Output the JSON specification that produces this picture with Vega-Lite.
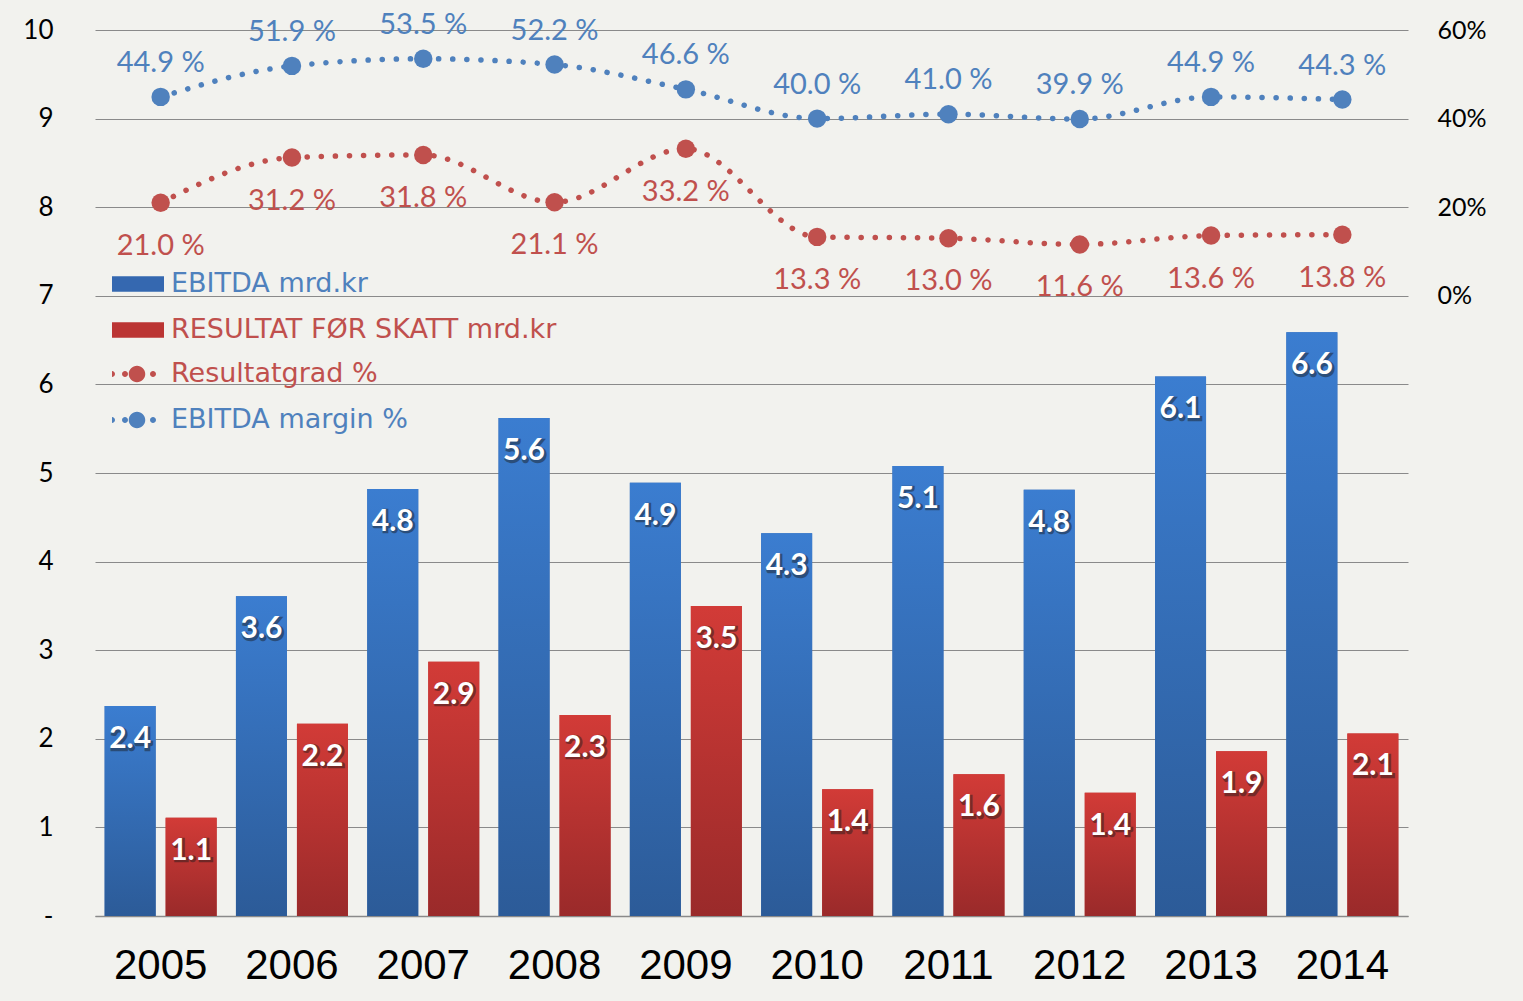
{
  "$schema": "https://vega.github.io/schema/vega-lite/v6.json",
  "width": 1313,
  "height": 886,
  "autosize": {"type": "none"},
  "padding": {"left": 95, "top": 30, "right": 115, "bottom": 85},
  "background": "#f2f2ee",
  "config": {"view": {"stroke": null}, "font": "Lato"},
  "datasets": {
    "bars": [
      {"year": 2005, "series": "EBITDA mrd.kr", "value": 2.37},
      {"year": 2006, "series": "EBITDA mrd.kr", "value": 3.61},
      {"year": 2007, "series": "EBITDA mrd.kr", "value": 4.82},
      {"year": 2008, "series": "EBITDA mrd.kr", "value": 5.62},
      {"year": 2009, "series": "EBITDA mrd.kr", "value": 4.89},
      {"year": 2010, "series": "EBITDA mrd.kr", "value": 4.32},
      {"year": 2011, "series": "EBITDA mrd.kr", "value": 5.08},
      {"year": 2012, "series": "EBITDA mrd.kr", "value": 4.81},
      {"year": 2013, "series": "EBITDA mrd.kr", "value": 6.09},
      {"year": 2014, "series": "EBITDA mrd.kr", "value": 6.59},
      {"year": 2005, "series": "RESULTAT FØR SKATT mrd.kr", "value": 1.11},
      {"year": 2006, "series": "RESULTAT FØR SKATT mrd.kr", "value": 2.17},
      {"year": 2007, "series": "RESULTAT FØR SKATT mrd.kr", "value": 2.87},
      {"year": 2008, "series": "RESULTAT FØR SKATT mrd.kr", "value": 2.27},
      {"year": 2009, "series": "RESULTAT FØR SKATT mrd.kr", "value": 3.5},
      {"year": 2010, "series": "RESULTAT FØR SKATT mrd.kr", "value": 1.43},
      {"year": 2011, "series": "RESULTAT FØR SKATT mrd.kr", "value": 1.6},
      {"year": 2012, "series": "RESULTAT FØR SKATT mrd.kr", "value": 1.39},
      {"year": 2013, "series": "RESULTAT FØR SKATT mrd.kr", "value": 1.86},
      {"year": 2014, "series": "RESULTAT FØR SKATT mrd.kr", "value": 2.06}
    ],
    "margins": [
      {"year": 2005, "series": "EBITDA margin %", "pct": 44.9},
      {"year": 2006, "series": "EBITDA margin %", "pct": 51.9},
      {"year": 2007, "series": "EBITDA margin %", "pct": 53.5},
      {"year": 2008, "series": "EBITDA margin %", "pct": 52.2},
      {"year": 2009, "series": "EBITDA margin %", "pct": 46.6},
      {"year": 2010, "series": "EBITDA margin %", "pct": 40.0},
      {"year": 2011, "series": "EBITDA margin %", "pct": 41.0},
      {"year": 2012, "series": "EBITDA margin %", "pct": 39.9},
      {"year": 2013, "series": "EBITDA margin %", "pct": 44.9},
      {"year": 2014, "series": "EBITDA margin %", "pct": 44.3},
      {"year": 2005, "series": "Resultatgrad %", "pct": 21.0},
      {"year": 2006, "series": "Resultatgrad %", "pct": 31.2},
      {"year": 2007, "series": "Resultatgrad %", "pct": 31.8},
      {"year": 2008, "series": "Resultatgrad %", "pct": 21.1},
      {"year": 2009, "series": "Resultatgrad %", "pct": 33.2},
      {"year": 2010, "series": "Resultatgrad %", "pct": 13.3},
      {"year": 2011, "series": "Resultatgrad %", "pct": 13.0},
      {"year": 2012, "series": "Resultatgrad %", "pct": 11.6},
      {"year": 2013, "series": "Resultatgrad %", "pct": 13.6},
      {"year": 2014, "series": "Resultatgrad %", "pct": 13.8}
    ]
  },
  "layer": [
    {
      "data": {"name": "bars"},
      "encoding": {
        "x": {
          "field": "year", "type": "ordinal",
          "scale": {"paddingInner": 0.147, "paddingOuter": 0.0735},
          "axis": {"title": null, "labelFont": "Liberation Sans", "labelFontSize": 42, "labelColor": "#000000", "ticks": false, "domain": true, "domainColor": "#8a8a8a", "domainWidth": 1.5, "labelPadding": 29, "labelAngle": 0}
        },
        "xOffset": {
          "field": "series", "type": "nominal",
          "scale": {"domain": ["EBITDA mrd.kr", "RESULTAT FØR SKATT mrd.kr"], "paddingInner": 0.164, "paddingOuter": 0}
        },
        "y": {
          "field": "value", "type": "quantitative",
          "scale": {"domain": [0, 10], "nice": false},
          "axis": {
            "title": null, "values": [0, 1, 2, 3, 4, 5, 6, 7, 8, 9, 10], "grid": true, "gridColor": "#8a8a8a", "gridWidth": 1, "domain": false, "ticks": false,
            "labelFont": "Lato", "labelFontSize": 26, "labelPadding": 42, "labelColor": "#000000",
            "labelExpr": "datum.value === 0 ? '-\u3000' : datum.label"
          }
        }
      },
      "layer": [
        {
          "mark": {"type": "bar"},
          "encoding": {
            "fill": {
              "field": "series", "type": "nominal",
              "scale": {"domain": ["EBITDA mrd.kr", "RESULTAT FØR SKATT mrd.kr"], "range": ["#3568b0", "#bb3533"]},
              "legend": {
                "title": null, "orient": "none", "legendX": 17, "legendY": 240.5,
                "symbolType": "M-1,-0.3L1,-0.3L1,0.3L-1,0.3Z", "symbolSize": 2704, "symbolStrokeWidth": 0,
                "clipHeight": 27, "rowPadding": 18, "labelFont": "DejaVu Sans", "labelFontSize": 27, "labelOffset": 7,
                "padding": 0, "labelLimit": 700, "symbolOpacity": 1,
                "encode": {
                  "labels": {"update": {"fill": {"signal": "datum.value === 'EBITDA mrd.kr' ? '#4f81bd' : '#c0504d'"}}},
                  "symbols": {"update": {"fill": [
                    {"test": "datum.value === 'EBITDA mrd.kr'", "value": {"gradient": "linear", "x1": 0, "y1": 0, "x2": 0, "y2": 1, "stops": [{"offset": 0, "color": "#3b7dd0"}, {"offset": 1, "color": "#2c5b98"}]}},
                    {"value": {"gradient": "linear", "x1": 0, "y1": 0, "x2": 0, "y2": 1, "stops": [{"offset": 0, "color": "#d23b37"}, {"offset": 1, "color": "#9a2a2a"}]}}
                  ]}}
                }
              }
            }
          }
        },
        {
          "mark": {"type": "bar"},
          "encoding": {
            "fill": {
              "condition": {
                "test": "datum.series === 'EBITDA mrd.kr'",
                "value": {"gradient": "linear", "x1": 0, "y1": 0, "x2": 0, "y2": 1, "stops": [{"offset": 0, "color": "#3b7dd0"}, {"offset": 1, "color": "#2c5b98"}]}
              },
              "value": {"gradient": "linear", "x1": 0, "y1": 0, "x2": 0, "y2": 1, "stops": [{"offset": 0, "color": "#d23b37"}, {"offset": 1, "color": "#9a2a2a"}]}
            }
          }
        },
        {
          "mark": {"type": "text", "dx": 1.5, "dy": 34.5, "baseline": "middle", "font": "Lato", "fontSize": 30, "fontWeight": "bold", "fill": "#1a1a1a", "stroke": "#1a1a1a", "strokeWidth": 2.5, "opacity": 0.45},
          "encoding": {"text": {"field": "value", "type": "quantitative", "format": ".1f"}}
        },
        {
          "mark": {"type": "text", "dy": 33, "baseline": "middle", "font": "Lato", "fontSize": 30, "fontWeight": "bold", "fill": "#ffffff"},
          "encoding": {"text": {"field": "value", "type": "quantitative", "format": ".1f"}}
        }
      ]
    },
    {
      "data": {"name": "margins"},
      "encoding": {
        "x": {"field": "year", "type": "ordinal"},
        "y": {
          "field": "pct", "type": "quantitative",
          "scale": {"domain": [-140, 60], "nice": false},
          "axis": {"orient": "right", "title": null, "values": [0, 20, 40, 60], "labelExpr": "datum.value + '%'", "grid": false, "domain": false, "ticks": false, "labelFont": "Lato", "labelFontSize": 25, "labelPadding": 29, "labelColor": "#000000"}
        }
      },
      "layer": [
        {
          "mark": {"type": "line", "interpolate": "monotone", "strokeWidth": 5.5, "strokeDash": [0.1, 14], "strokeCap": "round"},
          "encoding": {
            "stroke": {
              "field": "series", "type": "nominal",
              "scale": {"domain": ["Resultatgrad %", "EBITDA margin %"], "range": ["#c0504d", "#4f81bd"]},
              "legend": {
                "title": null, "orient": "none", "legendX": 17, "legendY": 330.5,
                "symbolType": "M-0.88,0A0.12,0.12,0,1,1,-1.12,0A0.12,0.12,0,1,1,-0.88,0ZM-0.36,0A0.12,0.12,0,1,1,-0.6,0A0.12,0.12,0,1,1,-0.36,0ZM0.33,0A0.33,0.33,0,1,1,-0.33,0A0.33,0.33,0,1,1,0.33,0ZM0.76,0A0.12,0.12,0,1,1,0.52,0A0.12,0.12,0,1,1,0.76,0Z",
                "symbolSize": 2500, "symbolStrokeWidth": 0,
                "clipHeight": 27, "rowPadding": 18, "labelFont": "DejaVu Sans", "labelFontSize": 27, "labelOffset": 9,
                "padding": 0, "labelLimit": 700, "symbolOpacity": 1,
                "encode": {
                  "labels": {"update": {"fill": {"signal": "datum.value === 'EBITDA margin %' ? '#4f81bd' : '#c0504d'"}}},
                  "symbols": {"update": {"fill": {"signal": "datum.value === 'EBITDA margin %' ? '#4f81bd' : '#c0504d'"}}}
                }
              }
            }
          }
        },
        {
          "mark": {"type": "point", "filled": true, "shape": "circle", "size": 340, "opacity": 1},
          "encoding": {
            "fill": {"condition": {"test": "datum.series === 'EBITDA margin %'", "value": "#4f81bd"}, "value": "#c0504d"}
          }
        },
        {
          "transform": [{"filter": "datum.series === 'EBITDA margin %'"}],
          "mark": {"type": "text", "dy": -34, "baseline": "middle", "font": "Lato", "fontSize": 29, "fill": "#4f81bd"},
          "encoding": {"text": {"value": {"expr": "format(datum.pct, '.1f') + ' %'"}}}
        },
        {
          "transform": [{"filter": "datum.series === 'Resultatgrad %'"}],
          "mark": {"type": "text", "dy": 43, "baseline": "middle", "font": "Lato", "fontSize": 29, "fill": "#c0504d"},
          "encoding": {"text": {"value": {"expr": "format(datum.pct, '.1f') + ' %'"}}}
        }
      ]
    }
  ],
  "resolve": {"scale": {"y": "independent"}}
}
